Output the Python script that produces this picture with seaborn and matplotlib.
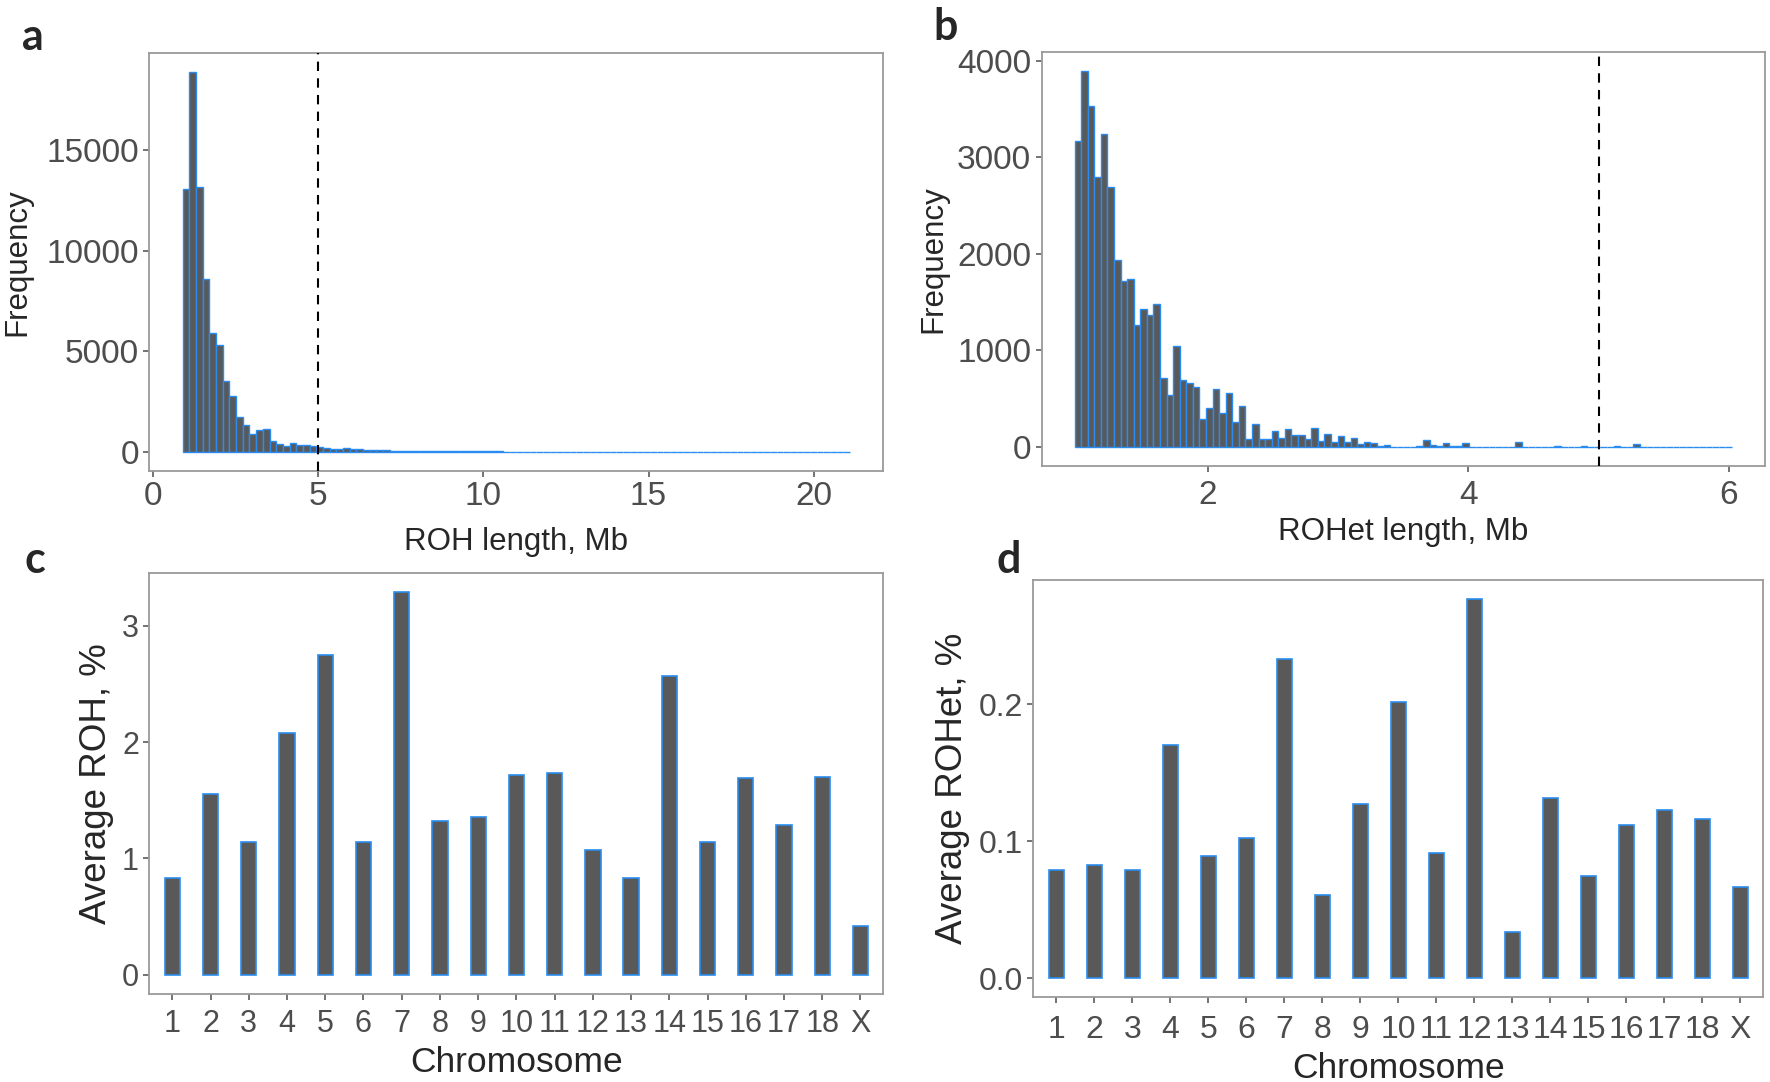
import numpy as np
import pandas as pd
import seaborn as sns
import matplotlib.pyplot as plt

# ROH length histogram (100 bins over 1-21 Mb), counts per bin
roh_range = (1.0, 21.0)
roh_counts = [13100, 18920, 13180, 8580, 5890, 5330, 3530, 2780, 1740, 1330,
              880, 1090, 1130, 510, 380, 270, 410, 330, 330, 270,
              230, 160, 130, 120, 170, 110, 140, 90, 80, 70,
              60, 55, 50, 45, 40, 35, 30, 30, 25, 20,
              20, 25, 15, 40, 15, 12, 10, 10, 8, 8,
              6, 6, 5, 5, 4, 4, 3, 3, 3, 3,
              2, 2, 2, 2, 2, 1, 1, 1, 1, 1,
              1, 1, 1, 0, 1, 0, 1, 0, 0, 1,
              0, 0, 1, 0, 0, 0, 0, 0, 0, 1,
              0, 0, 0, 0, 0, 0, 0, 0, 0, 1]

# ROHet length histogram (100 bins over 1-6 Mb)
rohet_range = (1.0, 6.0)
rohet_counts = [3172, 3893, 3533, 2801, 3247, 2691, 1935, 1722, 1735, 1265,
                1433, 1368, 1478, 715, 536, 1041, 698, 663, 619, 285,
                399, 595, 347, 560, 261, 423, 79, 234, 79, 79,
                165, 96, 182, 124, 124, 79, 192, 62, 131, 52,
                113, 52, 89, 28, 55, 38, 10, 17, 4, 4,
                2, 2, 8, 72, 17, 8, 45, 6, 6, 38,
                2, 0, 2, 0, 3, 0, 2, 55, 0, 2,
                0, 0, 2, 12, 0, 0, 0, 8, 0, 0,
                0, 3, 6, 0, 0, 27, 0, 0, 0, 0,
                0, 0, 0, 0, 0, 0, 0, 0, 0, 2]

chromosomes = [str(i) for i in range(1, 19)] + ['X']
avg_roh = [0.83, 1.55, 1.14, 2.08, 2.75, 1.14, 3.29, 1.32, 1.36, 1.72,
           1.73, 1.07, 0.83, 2.57, 1.14, 1.69, 1.29, 1.70, 0.42]
avg_rohet = [0.079, 0.083, 0.079, 0.170, 0.089, 0.1025, 0.233, 0.0605, 0.127, 0.202,
             0.0915, 0.277, 0.034, 0.1315, 0.0745, 0.112, 0.123, 0.116, 0.0665]

cutoff = 5

FILL = '#595959'
EDGE = '#2A8CF0'
TICK = '#4D4D4D'
FRAME = '#9A9A9A'

sns.set_style("white")
plt.rcParams['font.family'] = ['Liberation Sans', 'DejaVu Sans']

fig = plt.figure(figsize=(17.7, 10.82), dpi=100)
ax_a = fig.add_axes([0.0844, 0.565, 0.4147, 0.3863])
ax_b = fig.add_axes([0.5885, 0.5696, 0.4086, 0.3819])
ax_c = fig.add_axes([0.0844, 0.0813, 0.4147, 0.3894])
ax_d = fig.add_axes([0.5838, 0.0783, 0.4124, 0.3857])


def hist_panel(ax, counts, rng, xlabel, xticks, xpad, ylpad):
    n = len(counts)
    w = (rng[1] - rng[0]) / (n - 1)
    lo, hi = rng[0] - w / 2, rng[1] + w / 2
    centers = np.linspace(lo + w / 2, hi - w / 2, n)
    df = pd.DataFrame({'x': centers, 'n': counts})
    sns.histplot(data=df, x='x', weights='n', bins=n, binrange=(lo, hi),
                 color=FILL, edgecolor=EDGE, linewidth=1.0, alpha=1, ax=ax)
    ax.axvline(cutoff, color='black', ls=(0, (4.5, 3.5)), lw=1.5, zorder=5)
    pad = 0.05 * (hi - lo)
    ax.set_xlim(lo - pad, hi + pad)
    top = max(counts)
    ax.set_ylim(-0.05 * top, 1.05 * top)
    ax.set_xticks(xticks)
    ax.set_xlabel(xlabel, fontsize=22.5, labelpad=xpad)
    ax.set_ylabel('Frequency', fontsize=22.5, labelpad=ylpad)


def bar_panel(ax, vals, ylabel, yticks, fmt, xpad):
    df = pd.DataFrame({'chrom': chromosomes, 'val': vals})
    sns.barplot(data=df, x='chrom', y='val', order=chromosomes, color=FILL,
                saturation=1, width=0.4, edgecolor=EDGE, linewidth=1.2, ax=ax)
    ax.set_xlim(-0.6, len(chromosomes) - 0.4)
    top = max(vals)
    ax.set_ylim(-0.05 * top, 1.05 * top)
    ax.set_yticks(yticks)
    ax.set_yticklabels([fmt.format(t) for t in yticks])
    ax.set_xlabel('Chromosome', fontsize=25.5, labelpad=xpad)
    ax.set_ylabel(ylabel, fontsize=26.5, labelpad=6)


hist_panel(ax_a, roh_counts, roh_range, 'ROH length, Mb', [0, 5, 10, 15, 20], 11, 10)
ax_a.set_yticks([0, 5000, 10000, 15000])
hist_panel(ax_b, rohet_counts, rohet_range, 'ROHet length, Mb', [2, 4, 6], 4, 6)
ax_b.set_yticks([0, 1000, 2000, 3000, 4000])

bar_panel(ax_c, avg_roh, 'Average ROH, %', [0, 1, 2, 3], '{:g}', 5)
bar_panel(ax_d, avg_rohet, 'Average ROHet, %', [0.0, 0.1, 0.2], '{:.1f}', 5)

for ax, fs, xp in [(ax_a, 24, 3), (ax_b, 24, 6), (ax_c, 22, 6), (ax_d, 23, 8)]:
    for side in ['top', 'right', 'bottom', 'left']:
        ax.spines[side].set_visible(True)
        ax.spines[side].set_color(FRAME)
        ax.spines[side].set_linewidth(1.3)
    ax.tick_params(axis='both', which='both', direction='out', length=4.5,
                   width=1.1, color=TICK, labelcolor=TICK, labelsize=fs,
                   bottom=True, left=True, pad=3)
    ax.tick_params(axis='x', pad=xp)
    ax.grid(False)

for x, y, s in [(22, 50, 'a'), (933, 40, 'b'), (25, 573, 'c'), (996, 573, 'd')]:
    fig.text(x / 1770, 1 - y / 1082, s, fontsize=31, fontweight='bold',
             family=['Lato', 'DejaVu Sans'], va='baseline', ha='left')

fig.savefig('out.png', dpi=100)
